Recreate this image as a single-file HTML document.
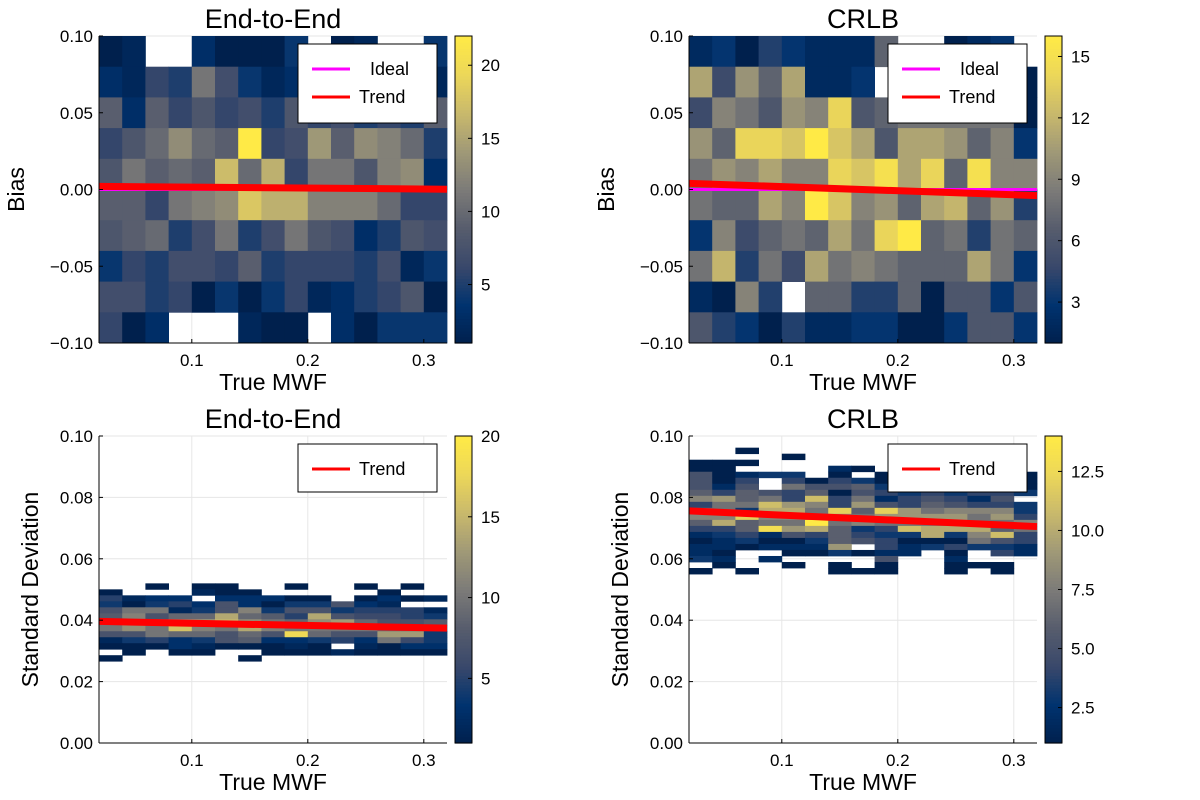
<!DOCTYPE html>
<html><head><meta charset="utf-8"><style>
html,body{margin:0;padding:0;background:#fff}
svg{display:block;font-family:"Liberation Sans",sans-serif}
</style></head><body>
<svg id="fig" width="1200" height="800" viewBox="0 0 1200 800"></svg>
<script>
// ---- data ----
const xTicks=[0.1,0.2,0.3];
const biasTicks=[-0.1,-0.05,0,0.05,0.1];
const sdTicks=[0,0.02,0.04,0.06,0.08,0.1];
const cbTicksTL=[5,10,15,20];
const cbTicksTR=[3,6,9,12,15];
const cbTicksBL=[5,10,15,20];
const cbTicksBR=[2.5,5,7.5,10,12.5];
const gridTL=[
[1,2,0,0,3,1,1,1,4,0,1,2,0,0,4],
[3,2,6,5,11,7,4,2,3,5,6,4,5,6,2],
[9,3,9,6,8,6,7,5,8,6,7,5,6,5,9],
[6,8,10,13,10,9,22,6,7,14,9,13,12,10,5],
[8,11,9,10,9,17,10,16,6,11,11,8,12,13,3],
[9,9,6,11,12,13,18,16,16,12,12,12,10,6,6],
[8,9,10,5,7,11,5,7,11,8,7,3,5,8,7],
[4,6,5,7,7,6,9,5,6,6,6,5,7,2,4],
[7,7,5,6,1,4,1,4,6,2,3,5,6,8,1],
[6,1,3,0,0,0,2,1,1,0,3,1,4,4,4]];
const gridTR=[
[2,3,1,4,3,2,2,2,7,0,0,1,2,3,0],
[11,5,10,7,11,2,2,3,0,6,6,6,6,6,1],
[5,9,8,6,10,9,14,6,7,8,8,8,8,8,1],
[10,7,14,14,13,16,13,11,6,11,11,10,7,9,3],
[8,10,9,11,9,9,14,13,15,11,14,7,15,9,9],
[8,7,7,11,9,16,13,9,10,7,11,12,7,10,4],
[3,9,5,7,8,7,11,8,14,16,7,8,4,8,7],
[8,12,4,8,5,11,8,9,8,7,7,7,11,8,3],
[2,1,9,4,0,7,7,4,4,7,1,6,6,3,6],
[6,4,3,1,4,2,2,3,3,1,1,3,6,6,3]];
const gridBL=[
[0,0,1,0,1,1,0,0,1,0,0,1,0,1,0],
[1,0,0,0,2,1,1,0,0,0,0,0,1,0,0],
[5,2,3,3,0,3,3,3,1,1,0,1,3,1,2],
[4,1,4,5,3,7,3,1,4,4,7,3,2,0,0],
[7,10,10,2,4,7,11,4,7,7,4,5,5,5,2],
[8,11,7,9,9,14,9,8,5,14,7,6,6,5,4],
[10,13,11,13,13,15,12,10,9,12,13,9,7,7,8],
[10,12,10,16,11,10,14,11,10,10,10,10,9,9,7],
[7,7,10,9,9,7,9,7,18,9,7,7,13,13,4],
[2,4,5,3,4,7,8,3,3,4,5,3,10,6,4],
[1,1,1,3,2,1,1,1,2,1,0,2,1,3,3],
[0,1,0,1,1,0,0,1,1,1,2,1,1,1,1],
[1,0,0,0,0,0,1,0,0,0,0,0,0,0,0]];
const gridBR=[
[0,0,1,0,0,0,0,0,0,0,0,0,0,0,0],
[0,0,0,0,1,0,0,0,0,0,0,0,0,0,0],
[1,1,1,0,0,0,0,0,0,0,1,0,0,0,0],
[1,1,0,0,0,0,2,1,0,0,0,0,0,0,0],
[5,1,2,3,3,0,1,0,1,1,1,1,1,1,1],
[5,1,4,0,4,1,4,3,1,2,1,2,1,1,1],
[5,2,5,0,7,5,5,6,3,2,3,2,2,3,1],
[6,4,6,5,4,6,1,5,4,3,4,3,4,4,3],
[8,9,6,7,4,11,4,7,2,4,5,4,2,5,0],
[4,7,7,11,9,8,4,9,5,4,6,5,4,4,3],
[7,7,3,10,10,7,12,6,12,9,7,8,8,8,3],
[8,8,12,8,8,7,8,7,9,9,9,9,7,9,4],
[6,10,6,7,7,14,7,8,7,7,7,7,7,7,8],
[4,4,6,13,9,10,6,3,4,11,10,10,10,6,7],
[2,3,4,2,5,4,6,4,3,3,10,3,8,11,4],
[1,2,3,1,1,3,6,5,4,1,1,1,7,5,4],
[2,2,1,2,2,2,9,0,4,2,3,4,3,3,2],
[2,1,0,0,1,1,3,1,2,2,0,1,0,4,2],
[3,2,0,2,0,0,0,0,5,0,0,2,0,0,0],
[0,1,0,0,1,0,1,0,1,0,0,1,1,1,0],
[1,0,1,0,0,0,1,1,1,0,0,1,0,1,0]];
const trendTL=[0.002,0.0002];
const trendTR=[0.004,-0.004];
const trendBL=[0.0396,0.0374];
const trendBR=[0.0756,0.0705];
const idealLine=[0,0];
const xDomain=[0.02,0.32];

// ---- rendering ----
const NS="http://www.w3.org/2000/svg";
const svg=document.getElementById('fig');
function mk(tag,attrs,parent){const e=document.createElementNS(NS,tag);for(const k in attrs)e.setAttribute(k,attrs[k]);(parent||svg).appendChild(e);return e;}
const stops=[[0,[0,32,77]],[0.125,[0,51,111]],[0.25,[57,72,107]],[0.375,[87,93,109]],[0.5,[124,123,120]],[0.625,[160,153,119]],[0.75,[201,185,108]],[0.875,[236,215,89]],[1,[255,234,70]]];
function cmap(t){t=Math.max(0,Math.min(1,t));for(let i=1;i<stops.length;i++){if(t<=stops[i][0]){const a=stops[i-1],b=stops[i];const f=(t-a[0])/(b[0]-a[0]);const c=a[1].map((v,j)=>Math.round(v+(b[1][j]-v)*f));return `rgb(${c[0]},${c[1]},${c[2]})`;}}return 'rgb(255,234,70)';}

function panel(o){
  const g=mk('g',{});
  
  
  const L=o.x0,R=o.x0+348,T=o.y0,B=o.y0+307;
  const sx=v=>L+(v-xDomain[0])/(xDomain[1]-xDomain[0])*(R-L);
  const sy=v=>B-(v-o.yDom[0])/(o.yDom[1]-o.yDom[0])*(B-T);
  // grid
  xTicks.forEach(v=>{const l=mk('line',{x1:sx(v),x2:sx(v),y1:T,y2:B,stroke:'#e6e6e6','stroke-width':1},g);});
  o.yTicks.forEach(v=>{const l=mk('line',{x1:L,x2:R,y1:sy(v),y2:sy(v),stroke:'#e6e6e6','stroke-width':1},g);});
  // heatmap
  const nc=o.grid[0].length,cw=(xDomain[1]-xDomain[0])/nc;
  o.grid.forEach((row,i)=>row.forEach((v,j)=>{
    if(v<=0)return;
    const yt=o.rowTop-i*o.binH,yb=yt-o.binH;
    const x1=sx(xDomain[0]+j*cw),x2=sx(xDomain[0]+(j+1)*cw);
    const r=mk('rect',{x:x1,y:sy(yt),width:x2-x1+0.4,height:sy(yb)-sy(yt)+0.4,fill:cmap((v-o.cmin)/(o.cmax-o.cmin))},g);
    
    
  }));
  // ideal
  if(o.ideal){const l=mk('line',{x1:sx(xDomain[0]),x2:sx(xDomain[1]),y1:sy(o.ideal[0]),y2:sy(o.ideal[1]),stroke:'#ff00ff','stroke-width':3},g);}
  const tl=mk('line',{x1:sx(xDomain[0]),x2:sx(xDomain[1]),y1:sy(o.trend[0]),y2:sy(o.trend[1]),stroke:'#ff0000','stroke-width':7},g);
  
  
  // axes
  mk('line',{x1:L,x2:L,y1:T,y2:B,stroke:'#000','stroke-width':1},g);
  mk('line',{x1:L,x2:R,y1:B,y2:B,stroke:'#000','stroke-width':1},g);
  xTicks.forEach(v=>{mk('line',{x1:sx(v),x2:sx(v),y1:B,y2:B-4,stroke:'#000'},g);
    const t=mk('text',{x:sx(v),y:B+23,'font-size':17,'text-anchor':'middle'},g);t.textContent=v.toFixed(1);
    });
  o.yTicks.forEach(v=>{mk('line',{x1:L,x2:L+4,y1:sy(v),y2:sy(v),stroke:'#000'},g);
    const t=mk('text',{x:L-6,y:sy(v)+6,'font-size':17,'text-anchor':'end'},g);t.textContent=(v<0?'\u2212':'')+Math.abs(v).toFixed(2);
    });
  const ti=mk('text',{x:(L+R)/2,y:T-8,'font-size':27,'text-anchor':'middle'},g);ti.textContent=o.title;
  
  const xl=mk('text',{x:(L+R)/2,y:B+47,'font-size':23,'text-anchor':'middle'},g);xl.textContent='True MWF';
  
  const yl=mk('text',{x:0,y:0,'font-size':23,'text-anchor':'middle',transform:`translate(${o.ylx},${(T+B)/2}) rotate(-90)`},g);yl.textContent=o.ylabel;
  
  // legend
  const lg=mk('g',{},g);
  
  
  const lh=o.ideal?79:48;
  mk('rect',{x:L+199,y:T+8,width:139,height:lh,fill:'#fff',stroke:'#000','stroke-width':1},lg);
  let ly=T+33;
  if(o.ideal){mk('line',{x1:L+213,x2:L+251,y1:ly,y2:ly,stroke:'#ff00ff','stroke-width':3},lg);
    const t=mk('text',{x:L+271,y:ly+6,'font-size':18},lg);t.textContent='Ideal';ly+=28;}
  mk('line',{x1:L+213,x2:L+251,y1:ly,y2:ly,stroke:'#ff0000','stroke-width':3},lg);
  const tt=mk('text',{x:L+260,y:ly+6,'font-size':18},lg);tt.textContent='Trend';
  // colorbar
  const cb=mk('g',{},g);
  
  
  const cx=o.x0+356,cwid=17;
  for(let k=0;k<100;k++){const y1=B-(k+1)*(B-T)/100;mk('rect',{x:cx,y:y1,width:cwid,height:(B-T)/100+0.6,fill:cmap((k+0.5)/100)},cb);}
  mk('rect',{x:cx,y:T,width:cwid,height:B-T,fill:'none',stroke:'#000','stroke-width':1},cb);
  const cy=v=>B-(v-o.cmin)/(o.cmax-o.cmin)*(B-T);
  o.cbTicks.forEach(v=>{mk('line',{x1:cx+cwid-4,x2:cx+cwid,y1:cy(v),y2:cy(v),stroke:'#000'},cb);
    const t=mk('text',{x:cx+cwid+9,y:cy(v)+6,'font-size':17},cb);t.textContent=o.cbFmt(v);
    });
}
panel({name:'bias-end-to-end-panel',x0:99,y0:36,yDom:[-0.1,0.1],yTicks:biasTicks,grid:gridTL,rowTop:0.1,binH:0.02,cmin:1,cmax:22,trend:trendTL,ideal:idealLine,title:'End-to-End',ylabel:'Bias',ylx:24,cbTicks:cbTicksTL,cbFmt:v=>String(v)});
panel({name:'bias-crlb-panel',x0:689,y0:36,yDom:[-0.1,0.1],yTicks:biasTicks,grid:gridTR,rowTop:0.1,binH:0.02,cmin:1,cmax:16,trend:trendTR,ideal:idealLine,title:'CRLB',ylabel:'Bias',ylx:614,cbTicks:cbTicksTR,cbFmt:v=>String(v)});
panel({name:'sd-end-to-end-panel',x0:99,y0:436,yDom:[0,0.1],yTicks:sdTicks,grid:gridBL,rowTop:0.052,binH:0.00195,cmin:1,cmax:20,trend:trendBL,ideal:null,title:'End-to-End',ylabel:'Standard Deviation',ylx:38,cbTicks:cbTicksBL,cbFmt:v=>String(v)});
panel({name:'sd-crlb-panel',x0:689,y0:436,yDom:[0,0.1],yTicks:sdTicks,grid:gridBR,rowTop:0.0962,binH:0.00196,cmin:1,cmax:14,trend:trendBR,ideal:null,title:'CRLB',ylabel:'Standard Deviation',ylx:628,cbTicks:cbTicksBR,cbFmt:v=>v.toFixed(1)});
</script>
</body></html>
